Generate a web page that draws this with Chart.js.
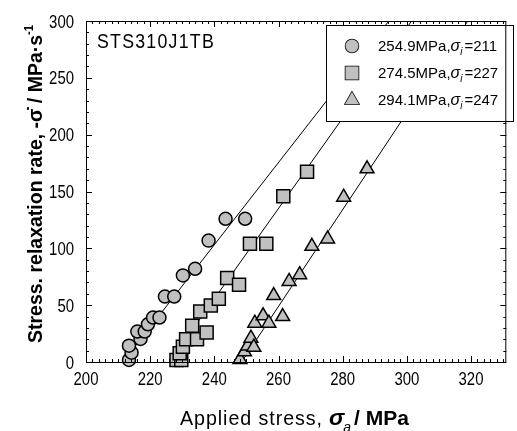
<!DOCTYPE html>
<html>
<head>
<meta charset="utf-8">
<script src="https://cdn.jsdelivr.net/npm/chart.js@4"></script>
<style>
body { margin: 0; background: #fff; }
#wrap { width: 517px; height: 431px; }
</style>
</head>
<body>
<div id="wrap"><canvas id="grafico"></canvas></div>
<script>
// valores
const circX = [213.4, 214.2, 213.4, 217.0, 216.0, 218.3, 219.3, 220.9, 222.9, 224.6, 227.5, 230.2, 234.0, 238.2, 243.5, 249.6];
const circY = [1.8, 8.2, 14.4, 20.3, 26.8, 26.8, 33.2, 39.1, 39.1, 57.6, 57.6, 76.2, 82.0, 106.8, 126, 126];

const quadX = [228.2, 229.7, 229.2, 230.2, 231.2, 234.6, 237.6, 233.1, 235.6, 238.9, 241.4, 244.0, 247.7, 251.1, 256.2, 261.5, 268.9];
const quadY = [1.8, 1.8, 7.6, 13.5, 20, 20, 25.9, 31.8, 44.4, 49.7, 55.6, 73.9, 68, 104.1, 104.1, 145.9, 167.4];

const triX = [248.0, 249.4, 250.4, 251.4, 252.3, 252.6, 255.2, 257.0, 261.3, 258.5, 263.3, 266.6, 270.4, 275.3, 280.3, 287.6];
const triY = [2.3, 9, 14.1, 20.9, 13, 34.1, 40.6, 34.1, 40, 58.5, 70.9, 76.8, 101.8, 108.3, 145, 170];

// retas ajustadas (extremos)
const reta1X = [211.5, 294.4], reta1Y = [0, 300];
const reta2X = [226, 301.5],   reta2Y = [0, 300];
const reta3X = [248.5, 319],   reta3Y = [0, 300];

const tensoes = ['254.9MPa,', '274.5MPa,', '294.1MPa,'];
const sigmaI = ['211', '227', '247'];
const estilos = ['circle', 'rect', 'triangle'];

const xTicks = [200, 220, 240, 260, 280, 300, 320];
const yTicks = [0, 50, 100, 150, 200, 250, 300];

const arial = '"Liberation Sans", Arial, sans-serif';
const cinza = '#c0c0c0';

function pontos(xs, ys) {
    return xs.map((v, i) => ({ x: v, y: ys[i] }));
}

function reta(xs, ys) {
    return {
        data: pontos(xs, ys),
        showLine: true,
        pointRadius: 0,
        borderColor: '#000',
        borderWidth: 1,
        order: 2
    };
}

function marcador(xs, ys, estilo, raio) {
    return {
        data: pontos(xs, ys),
        pointStyle: estilo,
        pointRadius: raio,
        backgroundColor: cinza,
        borderColor: '#000',
        borderWidth: 1.5,
        clip: false,
        order: 1
    };
}

// texto estreito (fonte condensada simulada)
function estreito(ctx, txt, x, y, font, sx, align) {
    ctx.save();
    ctx.font = font;
    ctx.textAlign = align || 'left';
    ctx.translate(x, y);
    ctx.scale(sx, 1);
    ctx.fillText(txt, 0, 0);
    ctx.restore();
}

const molduraPlugin = {
    id: 'moldura',
    afterDraw(chart) {
        const { ctx, chartArea: a, scales: { x, y } } = chart;
        ctx.save();
        ctx.strokeStyle = '#000';
        ctx.lineWidth = 1;

        // marcas internas
        ctx.beginPath();
        for (let v = 200; v <= 330; v += 2) {
            const px = Math.round(x.getPixelForValue(v)) + 0.5;
            const len = v % 20 === 0 ? 6 : 3;
            ctx.moveTo(px, a.bottom); ctx.lineTo(px, a.bottom - len);
            ctx.moveTo(px, a.top); ctx.lineTo(px, a.top + len);
        }
        for (let v = 0; v <= 300; v += 10) {
            const py = Math.round(y.getPixelForValue(v)) + 0.5;
            const len = v % 50 === 0 ? 6 : 3;
            ctx.moveTo(a.left, py); ctx.lineTo(a.left + len, py);
            ctx.moveTo(a.right, py); ctx.lineTo(a.right - len, py);
        }
        ctx.stroke();

        // legenda
        const lx = 326, ly = 25, lw = 187, lh = 96;
        ctx.fillStyle = '#fff';
        ctx.fillRect(lx, ly, lw, lh);
        ctx.strokeRect(lx + 0.5, ly + 0.5, lw, lh);
        const raios = [6.5, 9.2, 8];
        for (let i = 0; i < 3; i++) {
            const cy = 46 + i * 27;
            ctx.fillStyle = cinza;
            ctx.strokeStyle = '#000';
            ctx.lineWidth = 1.5;
            Chart.helpers.drawPoint(ctx, { pointStyle: estilos[i], radius: raios[i], rotation: 0, borderWidth: 1.5 }, 352, cy);
            ctx.fill();
            ctx.fillStyle = '#000';
            let tx = 378;
            const base = cy + 5;
            ctx.font = '15px ' + arial;
            ctx.fillText(tensoes[i], tx, base);
            tx += ctx.measureText(tensoes[i]).width;
            ctx.font = 'italic 16px ' + arial;
            ctx.fillText('σ', tx, base);
            tx += ctx.measureText('σ').width;
            ctx.font = 'italic 10px ' + arial;
            ctx.fillText('i', tx, base + 4);
            tx += ctx.measureText('i').width + 2;
            ctx.font = '15px ' + arial;
            ctx.fillText('=' + sigmaI[i], tx, base);
        }

        // moldura
        ctx.strokeStyle = '#000';
        ctx.lineWidth = 1;
        ctx.strokeRect(a.left + 0.5, a.top + 0.5, a.right - a.left - 1, a.bottom - a.top);

        ctx.fillStyle = '#000';
        const fTick = '18px ' + arial;

        // rotulos dos eixos
        xTicks.forEach(v => estreito(ctx, String(v), x.getPixelForValue(v), 385, fTick, 0.83, 'center'));
        yTicks.forEach(v => estreito(ctx, String(v), 74, y.getPixelForValue(v) + 6.5, fTick, 0.83, 'right'));

        // rotulo do material
        ctx.font = '21px ' + arial;
        ctx.letterSpacing = '1.5px';
        let w = ctx.measureText('STS310J1TB').width;
        estreito(ctx, 'STS310J1TB', 97, 48, '21px ' + arial, 118 / w, 'left');

        // titulo eixo x
        ctx.letterSpacing = '1px';
        ctx.font = '21px ' + arial;
        w = ctx.measureText('Applied stress,').width;
        estreito(ctx, 'Applied stress,', 180, 425, '21px ' + arial, 143 / w, 'left');
        ctx.letterSpacing = '0px';
        let tx = 329;
        const bx = 425;
        ctx.font = 'bold italic 23px ' + arial;
        ctx.fillText('σ', tx, bx);
        tx += ctx.measureText('σ').width - 1;
        ctx.font = 'italic 14px ' + arial;
        ctx.fillText('a', tx, bx + 7);
        tx += ctx.measureText('a').width + 3;
        ctx.font = 'bold 21px ' + arial;
        ctx.fillText('/ MPa', tx, bx);

        // titulo eixo y
        ctx.translate(42, 184);
        ctx.rotate(-Math.PI / 2);
        const fy = 'bold 21px ' + arial;
        const partes = [
            ['Stress. relaxation rate, -', fy, 0],
            ['σ̇', fy, 0],
            [' / MPa·s', fy, 0],
            ['-1', 'bold 12px ' + arial, -9]
        ];
        let total = 0;
        partes.forEach(p => { ctx.font = p[1]; total += ctx.measureText(p[0]).width; });
        ctx.scale(318 / total, 1);
        let px = -total / 2;
        partes.forEach(p => {
            ctx.font = p[1];
            ctx.fillText(p[0], px, p[2]);
            px += ctx.measureText(p[0]).width;
        });
        ctx.restore();
    }
};

window.addEventListener('DOMContentLoaded', () => {
    const ctx = document.getElementById('grafico').getContext('2d');
    new Chart(ctx, {
        type: 'scatter',
        data: {
            datasets: [
                marcador(circX, circY, 'circle', 6.5),
                marcador(quadX, quadY, 'rect', 9.2),
                marcador(triX, triY, 'triangle', 8),
                reta(reta1X, reta1Y),
                reta(reta2X, reta2Y),
                reta(reta3X, reta3Y)
            ]
        },
        options: {
            responsive: true,
            maintainAspectRatio: false,
            animation: false,
            layout: { padding: { top: 21, right: 2, left: 0, bottom: 0 } },
            plugins: {
                legend: { display: false },
                tooltip: { enabled: false }
            },
            scales: {
                x: {
                    type: 'linear',
                    min: 200,
                    max: 331,
                    grid: { display: false, drawTicks: false },
                    border: { display: false },
                    ticks: { display: false },
                    afterBuildTicks: s => { s.ticks = xTicks.map(v => ({ value: v })); },
                    afterFit: s => { s.height = 69; }
                },
                y: {
                    type: 'linear',
                    min: 0,
                    max: 300,
                    grid: { display: false, drawTicks: false },
                    border: { display: false },
                    ticks: { display: false },
                    afterBuildTicks: s => { s.ticks = yTicks.map(v => ({ value: v })); },
                    afterFit: s => { s.width = 86; }
                }
            }
        },
        plugins: [molduraPlugin]
    });
});
</script>
</body>
</html>
